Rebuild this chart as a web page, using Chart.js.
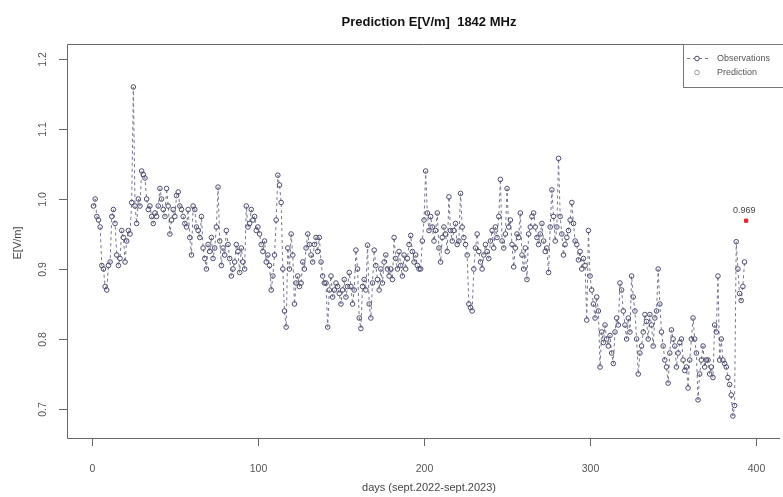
<!DOCTYPE html>
<html><head><meta charset="utf-8">
<script src="https://cdn.jsdelivr.net/npm/chart.js@4.4.1/dist/chart.umd.min.js"></script>
<style>html,body{margin:0;padding:0;background:#fff;overflow:hidden}#wrap{width:783px;height:497px}</style>
</head><body><div id="wrap"><canvas id="c" width="783" height="497"></canvas></div>
<script>
const chartTitle = "Prediction E[V/m]  1842 MHz";
const xTitle = "days (sept.2022-sept.2023)";
const yTitle = "E[V/m]";
const xTicks = [0, 100, 200, 300, 400];
const yTicks = [0.7, 0.8, 0.9, 1.0, 1.1, 1.2];
const yTickLabels = ["0.7", "0.8", "0.9", "1.0", "1.1", "1.2"];
const legendLabels = ["Observations", "Prediction"];
const firstDay = 1;
const observations = [
  0.99, 1.00, 0.975, 0.97, 0.96, 0.905, 0.90, 0.875, 0.87, 0.905,
  0.91, 0.975, 0.985, 0.965, 0.92, 0.905, 0.915, 0.955, 0.945, 0.91,
  0.94, 0.955, 0.95, 0.995, 1.16, 0.99, 0.965, 1.0, 0.99, 1.04,
  1.035, 1.03, 1.0, 0.985, 0.99, 0.975, 0.965, 0.98, 0.975, 0.99,
  1.015, 1.0, 0.985, 0.975, 1.015, 0.99, 0.95, 0.97, 0.985, 0.975,
  1.005, 1.01, 0.99, 0.985, 0.975, 0.965, 0.96, 0.985, 0.945, 0.92,
  0.99, 0.985, 0.96, 0.955, 0.945, 0.975, 0.93, 0.915, 0.90, 0.935,
  0.925, 0.945, 0.915, 0.93, 0.96, 1.017, 0.94, 0.905, 0.93, 0.92,
  0.955, 0.935, 0.915, 0.89, 0.90, 0.91, 0.935, 0.925, 0.895, 0.93,
  0.91, 0.90, 0.99, 0.96, 0.965, 0.985, 0.97, 0.975, 0.955, 0.96,
  0.95, 0.935, 0.925, 0.94, 0.91, 0.92, 0.905, 0.87, 0.89, 0.92,
  0.97, 1.034, 1.02, 0.995, 0.90, 0.84, 0.817, 0.93, 0.90, 0.95,
  0.92, 0.85, 0.88, 0.89, 0.875, 0.88, 0.91, 0.90, 0.93, 0.95,
  0.935, 0.92, 0.91, 0.935, 0.945, 0.925, 0.945, 0.91, 0.89, 0.88,
  0.88, 0.817, 0.87, 0.89, 0.86, 0.87, 0.88, 0.875, 0.865, 0.85,
  0.87, 0.885, 0.86, 0.875, 0.895, 0.875, 0.85, 0.87, 0.927, 0.90,
  0.83, 0.815, 0.875, 0.885, 0.87, 0.934, 0.85, 0.83, 0.88, 0.927,
  0.905, 0.885, 0.87, 0.90, 0.88, 0.91, 0.92, 0.90, 0.89, 0.90,
  0.885, 0.945, 0.915, 0.90, 0.925, 0.905, 0.89, 0.92, 0.90, 0.915,
  0.935, 0.948, 0.925, 0.91, 0.92, 0.905, 0.90, 0.90, 0.94, 0.97,
  1.04, 0.98, 0.955, 0.975, 0.96, 0.94, 0.955, 0.98, 0.93, 0.91,
  0.945, 0.96, 0.95, 0.925, 1.003, 0.955, 0.94, 0.955, 0.965, 0.935,
  0.94, 1.008, 0.96, 0.945, 0.935, 0.92, 0.85, 0.845, 0.84, 0.90,
  0.93, 0.95, 0.925, 0.91, 0.90, 0.92, 0.935, 0.925, 0.915, 0.94,
  0.955, 0.93, 0.96, 0.945, 0.975, 1.028, 0.94, 0.93, 0.95, 1.015,
  0.96, 0.97, 0.935, 0.903, 0.93, 0.95, 0.945, 0.98, 0.92, 0.90,
  0.93, 0.885, 0.95, 0.96, 0.975, 0.98, 0.96, 0.945, 0.935, 0.95,
  0.965, 0.94, 0.925, 0.93, 0.895, 0.96, 1.013, 0.975, 0.94, 0.96,
  1.058, 0.975, 0.95, 0.92, 0.935, 0.945, 0.955, 0.97, 0.995, 0.965,
  0.94, 0.935, 0.913, 0.925, 0.90, 0.915, 0.905, 0.827, 0.955, 0.89,
  0.87, 0.85, 0.83, 0.86, 0.84, 0.76, 0.81, 0.795, 0.82, 0.80,
  0.79, 0.805, 0.78, 0.765, 0.81, 0.83, 0.82, 0.88, 0.87, 0.84,
  0.82, 0.80, 0.83, 0.81, 0.89, 0.86, 0.84, 0.80, 0.75, 0.78,
  0.79, 0.81, 0.835, 0.825, 0.80, 0.835, 0.82, 0.79, 0.83, 0.84,
  0.90, 0.85, 0.81, 0.79, 0.77, 0.76, 0.737, 0.78, 0.813, 0.80,
  0.79, 0.76, 0.78, 0.795, 0.80, 0.77, 0.755, 0.76, 0.73, 0.77,
  0.80, 0.83, 0.80, 0.78, 0.713, 0.75, 0.77, 0.79, 0.76, 0.77,
  0.77, 0.75, 0.76, 0.745, 0.82, 0.81, 0.89, 0.77, 0.80, 0.77,
  0.765, 0.76, 0.745, 0.735, 0.72, 0.69, 0.705, 0.939, 0.90, 0.865, 0.855, 0.875, 0.91
];
const predictionDay = 394;
const predictionValue = 0.969;
const predictionLabel = "0.969";

const obsColor = '#4c4c6e';
const lineColor = '#75758f';
const predColor = '#e3242b';

const obsPoints = observations.map((v, i) => ({ x: firstDay + i, y: v }));

const overlay = {
  id: 'overlay',
  afterDraw(chart) {
    const ctx = chart.ctx, a = chart.chartArea;
    const xs = chart.scales.x, ys = chart.scales.y;
    ctx.save();
    ctx.strokeStyle = '#666'; ctx.lineWidth = 1; ctx.setLineDash([]);
    // box (right side runs off the picture)
    ctx.beginPath();
    ctx.moveTo(a.right + 2, Math.round(a.top) + 0.5);
    ctx.lineTo(Math.round(a.left) + 0.5, Math.round(a.top) + 0.5);
    ctx.lineTo(Math.round(a.left) + 0.5, Math.round(a.bottom) + 0.5);
    ctx.lineTo(a.right + 2, Math.round(a.bottom) + 0.5);
    ctx.stroke();
    // y ticks
    ctx.fillStyle = '#555';
    ctx.font = '10.5px "Liberation Sans", Arial, sans-serif';
    ctx.textAlign = 'center'; ctx.textBaseline = 'middle';
    yTicks.forEach((v, i) => {
      const py = Math.round(ys.getPixelForValue(v)) + 0.5;
      ctx.beginPath(); ctx.moveTo(a.left - 8, py); ctx.lineTo(a.left, py); ctx.stroke();
      ctx.save(); ctx.translate(43, py); ctx.rotate(-Math.PI / 2);
      ctx.fillText(yTickLabels[i], 0, 0); ctx.restore();
    });
    // x ticks
    xTicks.forEach(v => {
      const px = Math.round(xs.getPixelForValue(v)) + 0.5;
      ctx.beginPath(); ctx.moveTo(px, a.bottom); ctx.lineTo(px, a.bottom + 8); ctx.stroke();
      ctx.fillText(String(v), px, 469);
    });
    // axis titles
    ctx.fillStyle = '#444';
    ctx.font = '11px "Liberation Sans", Arial, sans-serif';
    ctx.fillText(xTitle, 429, 488);
    ctx.save(); ctx.translate(18, 243); ctx.rotate(-Math.PI / 2);
    ctx.fillText(yTitle, 0, 0); ctx.restore();
    // main title
    ctx.fillStyle = '#111';
    ctx.font = 'bold 13px "Liberation Sans", Arial, sans-serif';
    ctx.fillText(chartTitle, 429, 22);
    // prediction label
    ctx.fillStyle = '#444';
    ctx.font = '9px "Liberation Sans", Arial, sans-serif';
    ctx.fillText(predictionLabel, xs.getPixelForValue(predictionDay) - 2, ys.getPixelForValue(predictionValue) - 10);
    // legend
    ctx.fillStyle = '#fff';
    ctx.fillRect(683.5, a.top + 0.5, 110, 43);
    ctx.strokeStyle = '#777';
    ctx.strokeRect(683.5, Math.round(a.top) + 0.5, 110, 43);
    ctx.strokeStyle = lineColor; ctx.setLineDash([3, 3]);
    ctx.beginPath(); ctx.moveTo(687, 58.5); ctx.lineTo(708, 58.5); ctx.stroke();
    ctx.setLineDash([]);
    ctx.fillStyle = '#fff';
    ctx.strokeStyle = obsColor;
    ctx.beginPath(); ctx.arc(697, 58.5, 2.3, 0, Math.PI * 2); ctx.fill(); ctx.stroke();
    ctx.strokeStyle = '#999';
    ctx.beginPath(); ctx.arc(697, 72.5, 2.3, 0, Math.PI * 2); ctx.stroke();
    ctx.fillStyle = '#555';
    ctx.font = '9px "Liberation Sans", Arial, sans-serif';
    ctx.textAlign = 'left';
    ctx.fillText(legendLabels[0], 717, 58.5);
    ctx.fillText(legendLabels[1], 717, 72.5);
    ctx.restore();
  }
};

new Chart(document.getElementById('c'), {
  type: 'line',
  data: {
    datasets: [
      {
        label: legendLabels[0],
        data: obsPoints,
        showLine: true,
        borderColor: lineColor,
        borderWidth: 1,
        borderDash: [3, 3],
        tension: 0,
        pointRadius: 2.3,
        pointBorderWidth: 1,
        pointBorderColor: obsColor,
        pointBackgroundColor: 'rgba(255,255,255,0)',
        fill: false
      },
      {
        label: legendLabels[1],
        data: [{ x: predictionDay, y: predictionValue }],
        showLine: false,
        pointStyle: 'rect',
        pointRadius: 2.3,
        pointBorderWidth: 1,
        pointBorderColor: predColor,
        pointBackgroundColor: predColor
      }
    ]
  },
  options: {
    responsive: false,
    animation: false,
    devicePixelRatio: 1,
    layout: { padding: { left: 67, top: 44, right: 0, bottom: 59 } },
    scales: {
      x: { type: 'linear', min: -14.95, max: 413.15, display: false },
      y: { type: 'linear', min: 0.6586, max: 1.2214, display: false }
    },
    plugins: { legend: { display: false }, tooltip: { enabled: false }, title: { display: false } }
  },
  plugins: [overlay]
});
</script>
</body></html>
